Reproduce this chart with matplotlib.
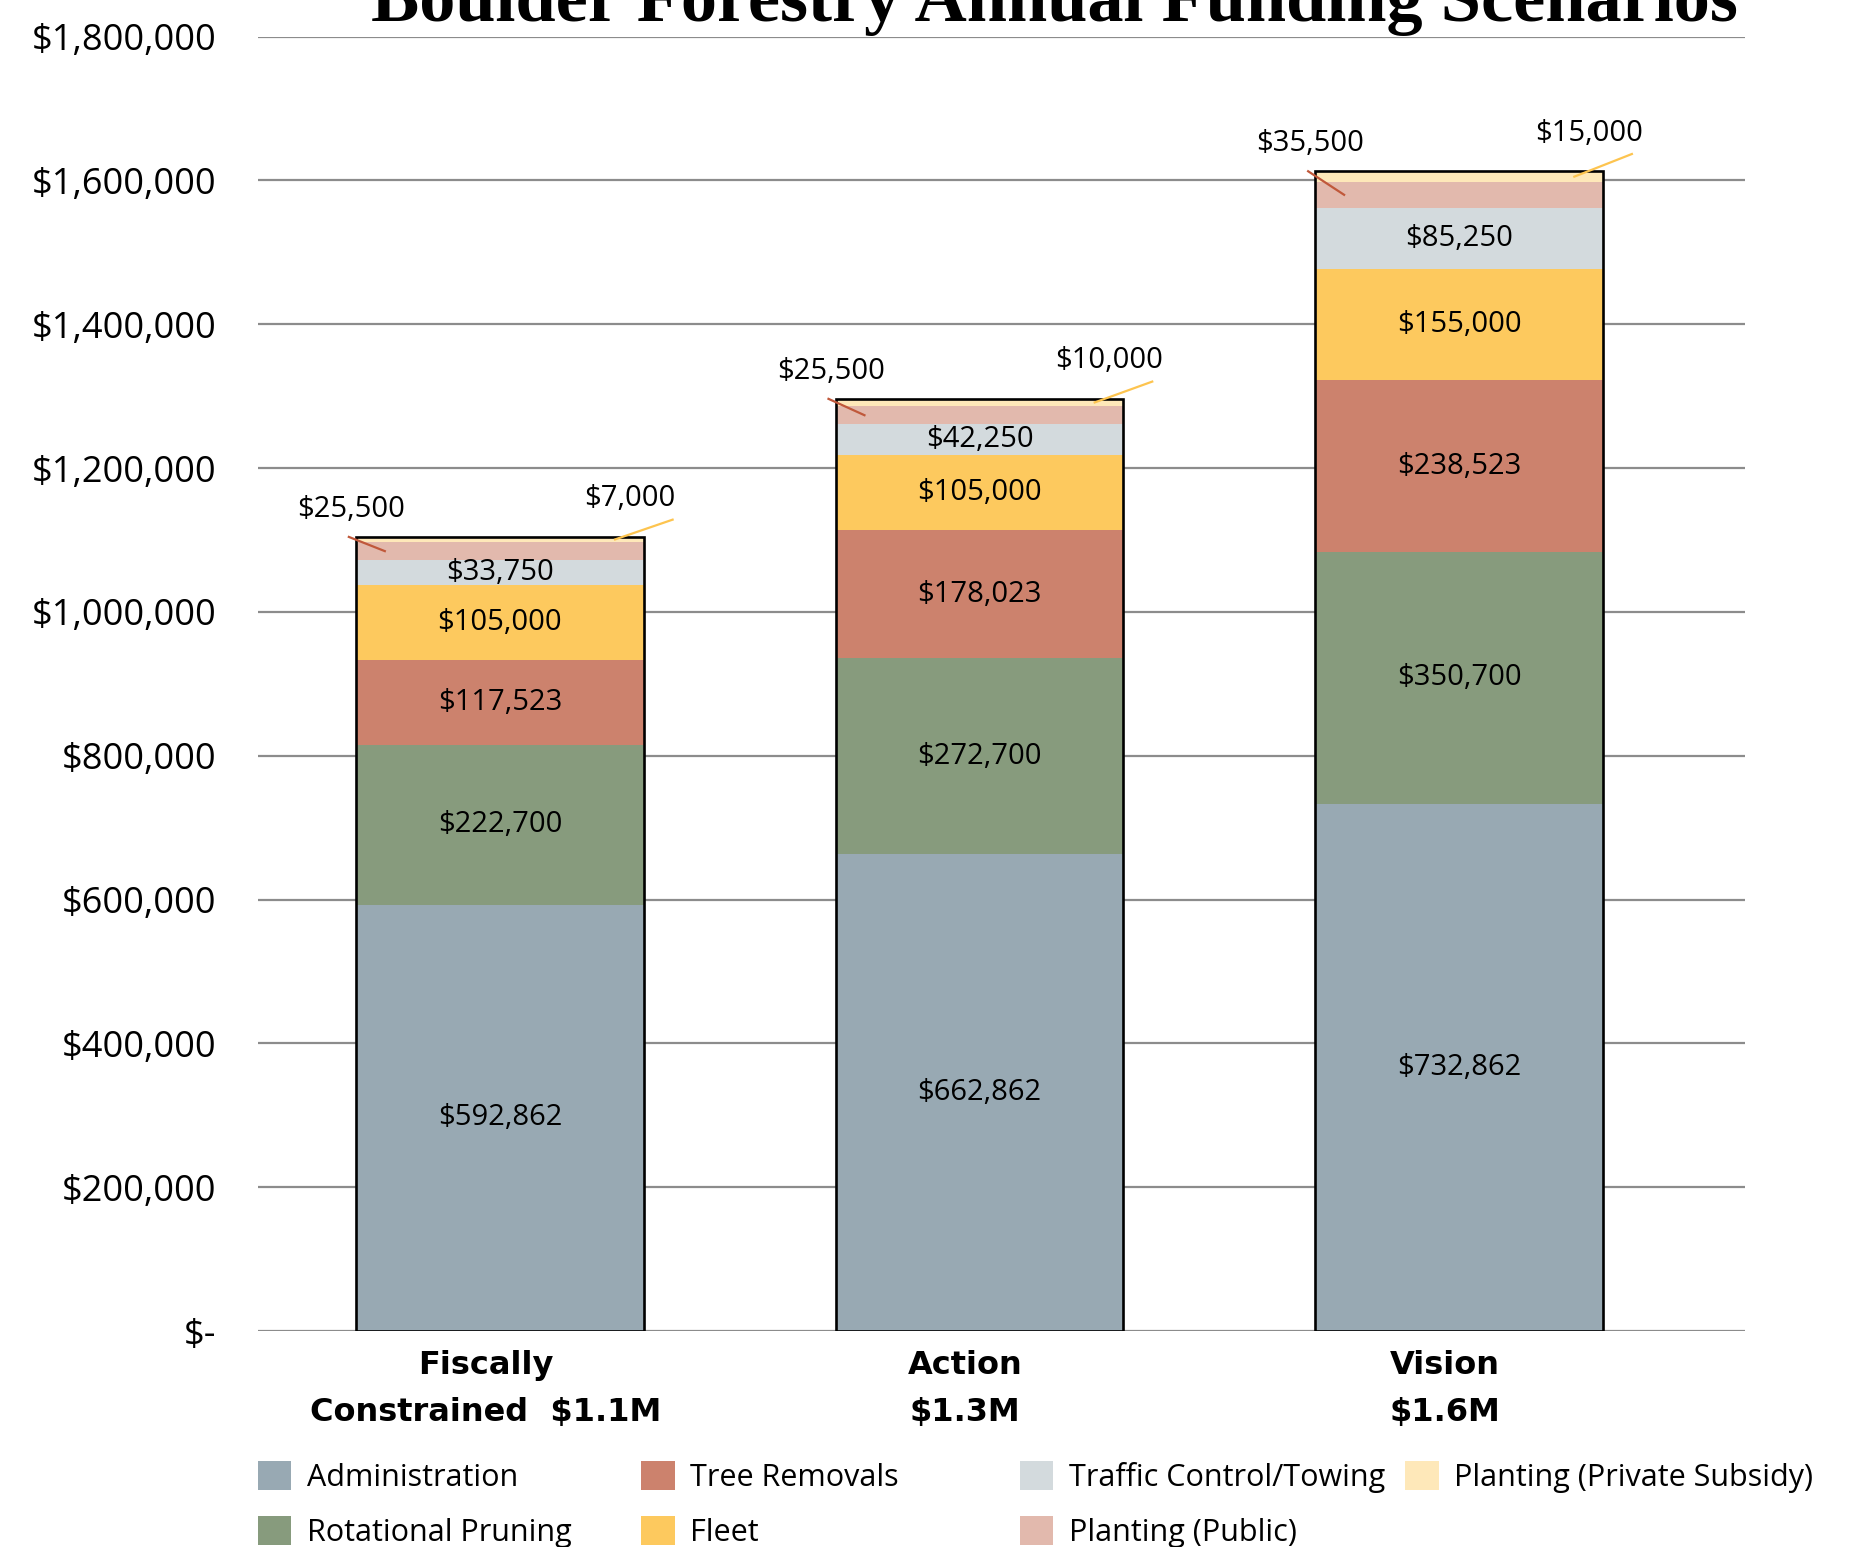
import matplotlib.pyplot as plt
import numpy as np

plt.rcParams['font.family'] = ['Open Sans', 'DejaVu Sans']

scenarios = ['Fiscally\nConstrained  $1.1M', 'Action\n$1.3M', 'Vision\n$1.6M']
categories = ['Administration', 'Rotational Pruning', 'Tree Removals', 'Fleet',
              'Traffic Control/Towing', 'Planting (Public)', 'Planting (Private Subsidy)']

administration = [592862, 662862, 732862]
rotational_pruning = [222700, 272700, 350700]
tree_removals = [117523, 178023, 238523]
fleet = [105000, 105000, 155000]
traffic_control = [33750, 42250, 85250]
planting_public = [25500, 25500, 35500]
planting_private = [7000, 10000, 15000]

colorlist = ['#98a9b3', '#879b7d', '#cc826d', '#fdc95e', '#d3dadd', '#e2b9ad', '#fee8b9']

series = [administration, rotational_pruning, tree_removals, fleet,
          traffic_control, planting_public, planting_private]

x = np.arange(len(scenarios))
width = 0.6

fig = plt.figure(figsize=(18.54, 15.47), dpi=100)
ax = fig.add_axes([0.139, 0.1396, 0.802, 0.8367])

bottom = np.zeros(len(x))
handles = []
for i, vals in enumerate(series):
    vals = np.array(vals, dtype=float)
    h = ax.bar(x, vals, width=width, bottom=bottom, color=colorlist[i],
               label=categories[i], zorder=2, lw=0)
    handles.append(h)
    # values of the thicker segments go inside the bar
    if i < 5:
        for xi, b, v in zip(x, bottom, vals):
            ax.text(xi, b + v / 2, '${:,.0f}'.format(v), ha='center', va='center',
                    fontsize=21, zorder=4)
    bottom = bottom + vals
totals = bottom

# black frame around each stack
ax.bar(x, totals, width=width, fill=False, edgecolor='black', lw=1.9, zorder=3)

# leader lines for the two thin planting segments
pub_mid = totals - np.array(planting_private) - np.array(planting_public) / 2
priv_mid = totals - np.array(planting_private) / 2
for xi, tot, pm, vm, pv, vv in zip(x, totals, pub_mid, priv_mid,
                                   planting_public, planting_private):
    ax.plot([xi - width / 2 - 0.015, xi - 0.24], [tot, pm], color='#c0583a',
            lw=1.6, zorder=5, clip_on=False)
    ax.text(xi - 0.31, tot + 38000, '${:,.0f}'.format(pv), ha='center', va='center',
            fontsize=21)
    ax.plot([xi + width / 2 + 0.06, xi + 0.24], [tot + 24000, vm], color='#fdc44f',
            lw=1.6, zorder=5, clip_on=False)
    ax.text(xi + 0.27, tot + 53000, '${:,.0f}'.format(vv), ha='center', va='center',
            fontsize=21)

ax.set_xlim(-0.505, 2.595)
ax.set_ylim(0, 1800000)
yt = np.arange(0, 1800001, 200000)
ax.set_yticks(yt)
ax.set_yticklabels(['$-' if v == 0 else '${:,.0f}'.format(v) for v in yt], fontsize=26)
ax.set_xticks(x - 0.03)
ax.set_xticklabels(scenarios, fontsize=23, fontweight='bold',
                   family=['DejaVu Sans'], linespacing=1.65)
ax.tick_params(axis='y', length=0, pad=30)
ax.tick_params(axis='x', length=0, pad=14)
ax.yaxis.grid(True, color='#8c8c8c', lw=1.6, zorder=0)
ax.set_axisbelow(True)
for s in ax.spines.values():
    s.set_visible(False)

fig.text(0.5688, 0.9864, 'Boulder Forestry Annual Funding Scenarios', ha='center',
         va='baseline', fontsize=52, fontweight='bold', family=['Liberation Serif'])

# legend laid out in fixed-width columns
col_x = [0.139, 0.346, 0.550, 0.758]
groups = [[0, 1], [2, 3], [4, 5], [6]]
for cx, g in zip(col_x, groups):
    leg = fig.legend([handles[k] for k in g], [categories[k] for k in g],
                     loc='upper left', bbox_to_anchor=(cx, 0.0555), frameon=False,
                     fontsize=22, handlelength=1.1, handleheight=1.1,
                     handletextpad=0.5, labelspacing=0.75, borderpad=0,
                     borderaxespad=0)

plt.savefig('out.png', dpi=100)
